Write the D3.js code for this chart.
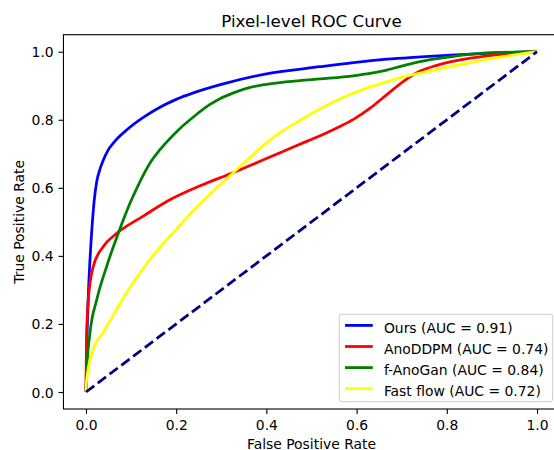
<!DOCTYPE html>
<html>
<head>
<meta charset="utf-8">
<script src="https://cdn.jsdelivr.net/npm/d3@7"></script>
<style>
  html, body { margin: 0; padding: 0; background: #fff; }
  svg { display: block; font-family: "DejaVu Sans", sans-serif; }
</style>
</head>
<body>
<svg id="chart" width="554" height="450"></svg>
<script>
// ---- Data ----
const xTicks = [0.0, 0.2, 0.4, 0.6, 0.8, 1.0];
const yTicks = [0.0, 0.2, 0.4, 0.6, 0.8, 1.0];
const seriesNames = ["Ours (AUC = 0.91)", "AnoDDPM (AUC = 0.74)", "f-AnoGan (AUC = 0.84)", "Fast flow (AUC = 0.72)"];
const seriesColors = ["blue", "red", "green", "yellow"];

const oursFpr = [0, 0.002, 0.005, 0.0085, 0.0126, 0.018, 0.024, 0.031, 0.038, 0.05, 0.061, 0.075, 0.09, 0.127, 0.164, 0.2, 0.238, 0.3, 0.4, 0.519, 0.593, 0.667, 0.807, 0.9, 1];
const oursTpr = [0, 0.15, 0.28, 0.38, 0.47, 0.56, 0.62, 0.655, 0.68, 0.713, 0.732, 0.752, 0.77, 0.807, 0.837, 0.86, 0.879, 0.904, 0.935, 0.956, 0.968, 0.978, 0.99, 0.996, 1];

const anoddpmFpr = [0, 0.001, 0.005, 0.016, 0.038, 0.068, 0.127, 0.186, 0.253, 0.327, 0.4, 0.474, 0.519, 0.556, 0.593, 0.63, 0.667, 0.704, 0.741, 0.778, 0.807, 0.874, 1];
const anoddpmTpr = [0, 0.15, 0.27, 0.368, 0.427, 0.466, 0.517, 0.565, 0.606, 0.645, 0.686, 0.728, 0.753, 0.776, 0.801, 0.834, 0.874, 0.913, 0.943, 0.96, 0.97, 0.985, 1];

const fanoganFpr = [0, 0.0015, 0.009, 0.024, 0.046, 0.072, 0.098, 0.112, 0.142, 0.164, 0.201, 0.238, 0.275, 0.297, 0.327, 0.364, 0.4, 0.474, 0.519, 0.593, 0.63, 0.667, 0.704, 0.741, 0.807, 0.874, 1];
const fanoganTpr = [0, 0.06, 0.175, 0.272, 0.37, 0.468, 0.556, 0.597, 0.673, 0.712, 0.765, 0.808, 0.845, 0.862, 0.879, 0.895, 0.904, 0.915, 0.92, 0.929, 0.936, 0.946, 0.959, 0.971, 0.985, 0.995, 1];

const fastflowFpr = [0, 0.001, 0.016, 0.038, 0.064, 0.09, 0.142, 0.2, 0.253, 0.327, 0.364, 0.4, 0.437, 0.474, 0.548, 0.622, 0.667, 0.704, 0.741, 0.807, 0.874, 1];
const fastflowTpr = [0, 0.03, 0.126, 0.175, 0.234, 0.292, 0.39, 0.478, 0.553, 0.645, 0.69, 0.732, 0.768, 0.798, 0.852, 0.893, 0.912, 0.926, 0.937, 0.956, 0.974, 1];

const chanceFpr = [0, 1];
const chanceTpr = [0, 1];

// ---- Layout ----
const svg = d3.select("#chart");
const axL = 63.45, axR = 559.55, axT = 34.7, axB = 409;
const x = d3.scaleLinear().domain([-0.05, 1.05]).range([axL, axR]);
const y = d3.scaleLinear().domain([-0.05, 1.05]).range([axB, axT]);
const fs = 13.9;

svg.append("defs").append("clipPath").attr("id", "clip")
  .append("rect").attr("x", axL).attr("y", axT).attr("width", axR - axL).attr("height", axB - axT);

const zip = (a, b) => a.map((v, i) => [v, b[i]]);
const series = [
  zip(oursFpr, oursTpr),
  zip(anoddpmFpr, anoddpmTpr),
  zip(fanoganFpr, fanoganTpr),
  zip(fastflowFpr, fastflowTpr)
];

const line = d3.line().x(d => x(d[0])).y(d => y(d[1])).curve(d3.curveMonotoneX);
const plot = svg.append("g").attr("clip-path", "url(#clip)");
series.forEach((s, i) => {
  plot.append("path").datum(s).attr("d", line)
    .attr("fill", "none").attr("stroke", seriesColors[i])
    .attr("stroke-width", 2.78).attr("stroke-linejoin", "round").attr("stroke-linecap", "butt");
});
plot.append("path").datum(zip(chanceFpr, chanceTpr))
  .attr("d", d3.line().x(d => x(d[0])).y(d => y(d[1])))
  .attr("fill", "none").attr("stroke", "navy").attr("stroke-width", 2.78)
  .attr("stroke-dasharray", "10.3,4.45");

// ---- Axes ----
const xAxis = d3.axisBottom(x).tickValues(xTicks).tickFormat(d3.format(".1f")).tickSize(4.9).tickPadding(4.9);
const yAxis = d3.axisLeft(y).tickValues(yTicks).tickFormat(d3.format(".1f")).tickSize(4.9).tickPadding(4.9);

const gx = svg.append("g").attr("transform", `translate(0,${axB})`).call(xAxis);
const gy = svg.append("g").attr("transform", `translate(${axL},0)`).call(yAxis);
[gx, gy].forEach(g => {
  g.select(".domain").remove();
  g.selectAll(".tick line").attr("stroke", "#000").attr("stroke-width", 1.1);
  g.selectAll(".tick text").attr("fill", "#000").attr("font-size", fs).attr("font-family", "DejaVu Sans");
});
gx.selectAll(".tick text").attr("dy", null).attr("y", 21.2);
gy.selectAll(".tick text").attr("dy", "0.36em");

// spines
svg.append("rect").attr("x", axL).attr("y", axT).attr("width", axR - axL).attr("height", axB - axT)
  .attr("fill", "none").attr("stroke", "#000").attr("stroke-width", 1.1);

// ---- Labels ----
svg.append("text").attr("x", (axL + axR) / 2).attr("y", 26.5)
  .attr("text-anchor", "middle").attr("font-size", 16.7).attr("fill", "#000")
  .text("Pixel-level ROC Curve");
svg.append("text").attr("x", (axL + axR) / 2).attr("y", 448.5)
  .attr("text-anchor", "middle").attr("font-size", fs).attr("fill", "#000")
  .text("False Positive Rate");
svg.append("text").attr("transform", `translate(23.5,${(axT + axB) / 2}) rotate(-90)`)
  .attr("text-anchor", "middle").attr("font-size", fs).attr("fill", "#000")
  .text("True Positive Rate");

// ---- Legend ----
const lg = svg.append("g");
lg.append("rect").attr("x", 339.3).attr("y", 314.3).attr("width", 213.4).attr("height", 87.4)
  .attr("rx", 2.8).attr("fill", "#fff").attr("fill-opacity", 0.8)
  .attr("stroke", "#cccccc").attr("stroke-width", 1);
seriesNames.forEach((name, i) => {
  const cy = 325.4 + i * 21.1;
  lg.append("line").attr("x1", 345).attr("x2", 372.8).attr("y1", cy).attr("y2", cy)
    .attr("stroke", seriesColors[i]).attr("stroke-width", 2.78);
  lg.append("text").attr("x", 383.9).attr("y", cy + 7.1)
    .attr("font-size", fs).attr("fill", "#000").text(name);
});
</script>
</body>
</html>
